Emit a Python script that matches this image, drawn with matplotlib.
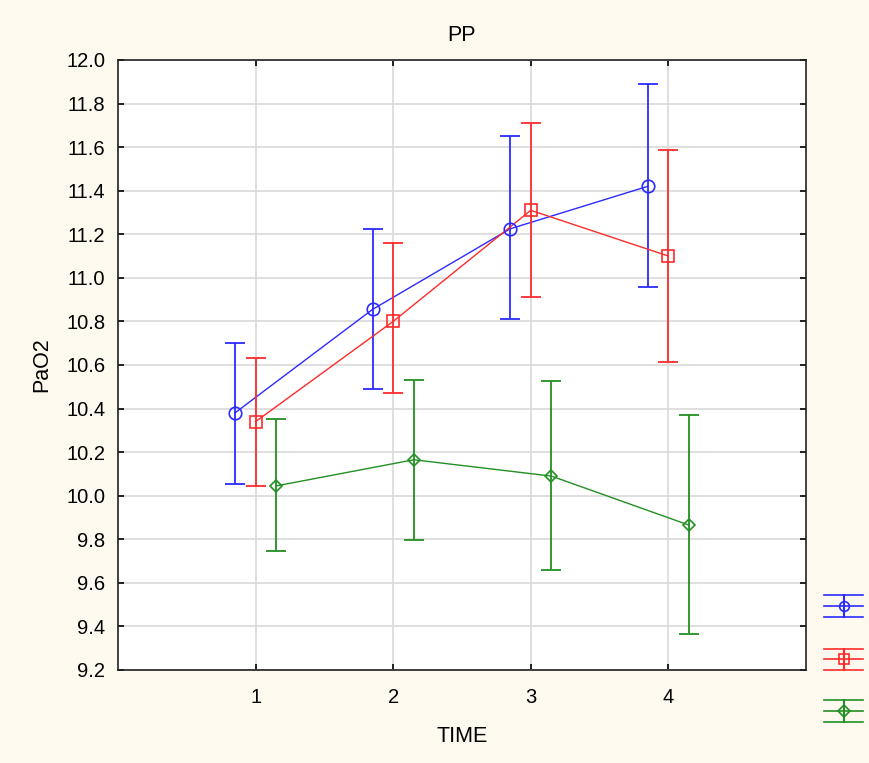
import numpy as np
import matplotlib; matplotlib.use("Agg")
import matplotlib.pyplot as plt

plt.rcParams.update({"font.family": ["Liberation Sans", "DejaVu Sans"], "font.size": 14.5})

# group means and CI limits of PaO2 at each time point
time = np.array([1, 2, 3, 4])
grp_mean = [
    [10.38, 10.855, 11.225, 11.42],
    [10.34, 10.80, 11.31, 11.10],
    [10.045, 10.165, 10.09, 9.865],
]
grp_lo = [
    [10.055, 10.49, 10.81, 10.96],
    [10.045, 10.47, 10.91, 10.615],
    [9.745, 9.795, 9.66, 9.365],
]
grp_hi = [
    [10.70, 11.225, 11.65, 11.89],
    [10.63, 11.16, 11.71, 11.585],
    [10.35, 10.53, 10.525, 10.37],
]
colors = ["#2b2bff", "#ff2b2b", "#229022"]
markers = ["o", "s", "D"]
msizes = [9, 9, 6]
shift = [-0.15, 0.0, 0.15]

fig = plt.figure(figsize=(8.7, 7.63), dpi=100, facecolor="#fdf9ef")
ax = fig.add_axes([0.1356, 0.1219, 0.7908, 0.7995])
ax.set_facecolor("white")

for k in range(3):
    x = time + shift[k]
    m = np.array(grp_mean[k])
    lo = m - np.array(grp_lo[k])
    hi = np.array(grp_hi[k]) - m
    ax.plot(x, m, "-", color=colors[k], lw=1.0, zorder=3)
    ax.errorbar(x, m, yerr=[lo, hi], fmt="none", ecolor=colors[k], elinewidth=1.3,
                capsize=7, capthick=1.3, zorder=3)
    ax.plot(x, m, markers[k], ms=msizes[k], mfc="none", mec=colors[k], mew=1.2, zorder=4)

ax.set_xlim(0, 5)
ax.set_ylim(9.2, 12.0)
ax.set_xticks(time)
ax.set_yticks(np.arange(9.2, 12.01, 0.2))
ax.yaxis.set_major_formatter(plt.FormatStrFormatter("%.1f"))
ax.grid(True, color="#d9d9d9", lw=1.2)
ax.set_axisbelow(True)
ax.tick_params(direction="in", length=4, width=1.2, top=True, right=True, labelsize=14.5)
ax.tick_params(axis="y", pad=9)
ax.tick_params(axis="x", pad=13)
for s in ax.spines.values():
    s.set_linewidth(1.2)
    s.set_color("#222222")
ax.set_title("PP", fontsize=15.5, pad=14)
ax.set_xlabel("TIME", fontsize=15.5, labelpad=14)
ax.set_ylabel("PaO2", fontsize=15.5, labelpad=10)

# key symbols at the right edge (line + marker with whiskers)
lg = fig.add_axes([0.945, 0.04, 0.05, 0.2])
lg.set_xlim(0, 1)
lg.set_ylim(0, 1)
lg.axis("off")
for k, yc in enumerate([0.83, 0.48, 0.14]):
    c = colors[k]
    for dy in (-0.07, 0.0, 0.07):
        lg.plot([0.05, 0.95], [yc + dy, yc + dy], color=c, lw=1.2)
    lg.plot([0.5, 0.5], [yc - 0.07, yc + 0.07], color=c, lw=1.5)
    lg.plot([0.5], [yc], markers[k], ms=[7, 7, 6][k], mfc="none", mec=c, mew=1.2)

fig.savefig("out.png", dpi=100, facecolor=fig.get_facecolor())
